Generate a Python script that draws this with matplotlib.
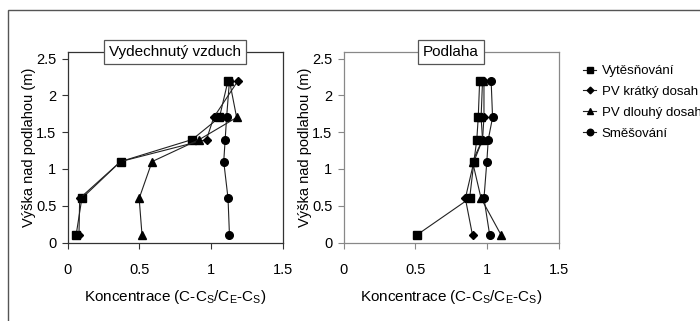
import matplotlib
matplotlib.use("Agg")
import matplotlib.pyplot as plt
from matplotlib.patches import Rectangle

plt.rcParams['font.family'] = ['Liberation Sans', 'DejaVu Sans']
plt.rcParams['mathtext.fontset'] = 'custom'
plt.rcParams['mathtext.rm'] = 'Liberation Sans'
plt.rcParams['mathtext.it'] = 'Liberation Sans'

# heights above floor (m)
heights = [0.1, 0.6, 1.1, 1.4, 1.7, 2.2]

series_names = ["Vytěsňování", "PV krátký dosah", "PV dlouhý dosah", "Směšování"]
markers = ['s', 'D', '^', 'o']
marker_sizes = [5.5, 4, 5.5, 5.5]

# exhaled air concentrations
exhaled_vyt = [0.06, 0.10, 0.37, 0.87, 1.06, 1.12]
exhaled_kratky = [0.08, 0.085, 0.37, 0.97, 1.02, 1.19]
exhaled_dlouhy = [0.52, 0.50, 0.59, 0.92, 1.18, 1.13]
exhaled_smes = [1.13, 1.12, 1.09, 1.10, 1.11, 1.13]

# floor concentrations
floor_vyt = [0.51, 0.88, 0.91, 0.93, 0.94, 0.95]
floor_kratky = [0.90, 0.85, 0.91, 0.97, 0.98, 0.98]
floor_dlouhy = [1.10, 0.96, 0.90, 0.97, 0.96, 0.97]
floor_smes = [1.02, 0.98, 1.00, 1.01, 1.04, 1.03]

panels = [
    ("Vydechnutý vzduch", [exhaled_vyt, exhaled_kratky, exhaled_dlouhy, exhaled_smes]),
    ("Podlaha", [floor_vyt, floor_kratky, floor_dlouhy, floor_smes]),
]

fig = plt.figure(figsize=(7.0, 3.21), dpi=100)

# outer chart border
fig.add_artist(Rectangle((8 / 700, -0.1), 1.2, (321 - 10) / 321 + 0.1,
                         transform=fig.transFigure, fill=False,
                         edgecolor='#555555', linewidth=1.0))

axes_lefts = [67.5 / 700, 343.5 / 700]
frame_colors = ['#333333', '#888888']
xlabel = 'Koncentrace (C-C$_\\mathrm{S}$/C$_\\mathrm{E}$-C$_\\mathrm{S}$)'

for i, (title, data) in enumerate(panels):
    ax = fig.add_axes([axes_lefts[i], 78.5 / 321, 215 / 700, 190.5 / 321])
    for j, values in enumerate(data):
        ax.plot(values, heights, color='#222222', linewidth=0.8,
                marker=markers[j], markersize=marker_sizes[j],
                markerfacecolor='black', markeredgecolor='black',
                label=series_names[j])
    ax.set_xlim(0, 1.5)
    ax.set_ylim(0, 2.59)
    ax.set_xticks([0, 0.5, 1, 1.5])
    ax.set_xticklabels(['0', '0.5', '1', '1.5'])
    ax.set_yticks([0, 0.5, 1, 1.5, 2, 2.5])
    ax.set_yticklabels(['0', '0.5', '1', '1.5', '2', '2.5'])
    ax.tick_params(direction='out', length=4, width=0.8, labelsize=10.5,
                   color=frame_colors[i], pad=4)
    ax.tick_params(axis='x', pad=11)
    for s in ax.spines.values():
        s.set_color(frame_colors[i])
        s.set_linewidth(0.9)
    ax.set_xlabel(xlabel, fontsize=11, labelpad=8)
    ax.set_ylabel("Výška nad podlahou (m)", fontsize=10.5, labelpad=0)
    ax.text(0.5, 1.0, title, transform=ax.transAxes, ha='center', va='center',
            fontsize=11,
            bbox=dict(boxstyle='square,pad=0.3', facecolor='white',
                      edgecolor='#555555', linewidth=0.9))
    if i == 1:
        ax.legend(loc='upper left', bbox_to_anchor=(1.09, 0.96), frameon=False,
                  fontsize=9.5, handlelength=1.0, handletextpad=0.4,
                  labelspacing=0.65, borderaxespad=0, markerscale=0.85)

fig.savefig("out.png", dpi=100, facecolor='white')
